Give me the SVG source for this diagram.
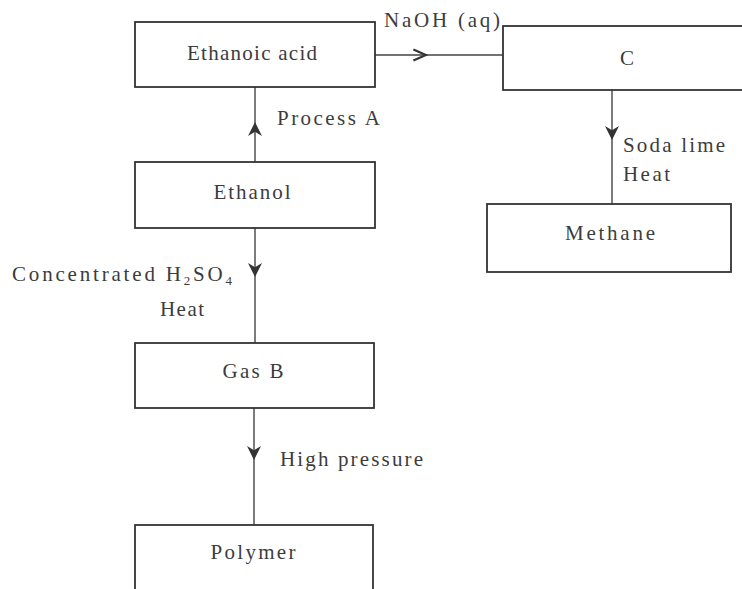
<svg xmlns="http://www.w3.org/2000/svg" width="742" height="589" viewBox="0 0 742 589">
<style>
.box{fill:#fff;stroke:#333;stroke-width:1.8}
.t{font-family:"Liberation Serif","Times New Roman",serif;font-size:21px;fill:#3c3c3c}
.c{text-anchor:middle}
.ln{fill:none;stroke:#444;stroke-width:1.4}
</style>
<defs>
<marker id="tri" viewBox="0 0 10 10" refX="10" refY="5" markerWidth="14" markerHeight="14" markerUnits="userSpaceOnUse" orient="auto">
<path d="M0,0 L10,5 L0,10 L3,5 z" fill="#333"/>
</marker>
<marker id="chev" viewBox="0 0 10 10" refX="10" refY="5" markerWidth="18" markerHeight="14" markerUnits="userSpaceOnUse" orient="auto">
<path d="M1,1 L10,5 L1,9" fill="none" stroke="#333" stroke-width="1.6"/>
</marker>
</defs>
<rect width="742" height="589" fill="#fff"/>
<g id="connectors">
<polyline class="ln" points="375,55 426,55 503,55" marker-mid="url(#chev)"/>
<polyline class="ln" points="255,162 255,122 255,87" marker-mid="url(#tri)"/>
<polyline class="ln" points="255,228 255,277 255,343" marker-mid="url(#tri)"/>
<polyline class="ln" points="254,408 254,460 254,525" marker-mid="url(#tri)"/>
<polyline class="ln" points="612,90 612,140 612,204" marker-mid="url(#tri)"/>
</g>
<g id="labels">
<text class="t" x="384" y="27" textLength="116" lengthAdjust="spacing">NaOH (aq)</text>
<text class="t" x="277" y="125" textLength="103" lengthAdjust="spacing">Process A</text>
<text class="t" x="12" y="281" textLength="220" lengthAdjust="spacing">Concentrated H<tspan font-size="13" dy="4">2</tspan><tspan dy="-4">SO</tspan><tspan font-size="13" dy="4">4</tspan></text>
<text class="t" x="160" y="316" textLength="44" lengthAdjust="spacing">Heat</text>
<text class="t" x="623" y="152" textLength="102" lengthAdjust="spacing">Soda lime</text>
<text class="t" x="623" y="181" textLength="47" lengthAdjust="spacing">Heat</text>
<text class="t" x="280" y="466" textLength="143" lengthAdjust="spacing">High pressure</text>
</g>
<g id="ethanoic-acid">
<rect class="box" x="135" y="22" width="240" height="65"/>
<text class="t c" x="252" y="60" textLength="130" lengthAdjust="spacing">Ethanoic acid</text>
</g>
<g id="c">
<rect class="box" x="503" y="26" width="260" height="64"/>
<text class="t c" x="627" y="65">C</text>
</g>
<g id="ethanol">
<rect class="box" x="135" y="162" width="240" height="66"/>
<text class="t c" x="252" y="199" textLength="77" lengthAdjust="spacing">Ethanol</text>
</g>
<g id="methane">
<rect class="box" x="487" y="204" width="244" height="68"/>
<text class="t c" x="610" y="240" textLength="90" lengthAdjust="spacing">Methane</text>
</g>
<g id="gas-b">
<rect class="box" x="135" y="343" width="239" height="65"/>
<text class="t c" x="253" y="378" textLength="61" lengthAdjust="spacing">Gas B</text>
</g>
<g id="polymer">
<rect class="box" x="135" y="525" width="238" height="80"/>
<text class="t c" x="253" y="559" textLength="85" lengthAdjust="spacing">Polymer</text>
</g>
</svg>
